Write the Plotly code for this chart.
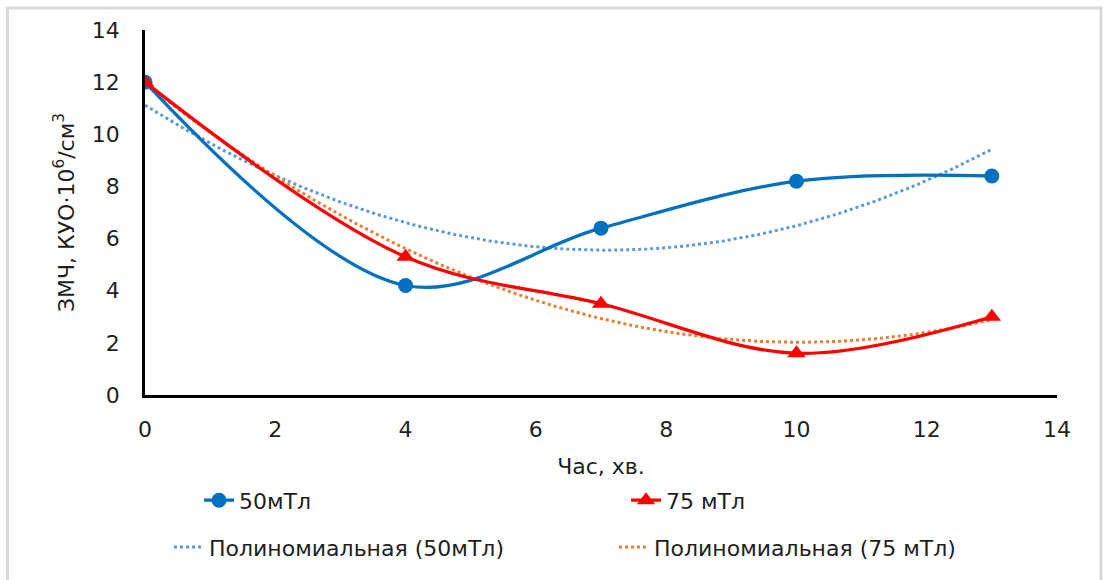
import numpy as np
import plotly.graph_objects as go

# Time points (minutes) and measured values
time_min = [0, 4, 7, 10, 13]
series_50 = [12.0, 4.2, 6.4, 8.2, 8.4]
series_75 = [12.0, 5.3, 3.5, 1.6, 3.0]

name_50 = "50мТл"
name_75 = "75 мТл"
trend_name_50 = "Полиномиальная (50мТл)"
trend_name_75 = "Полиномиальная (75 мТл)"

x_ticks = [0, 2, 4, 6, 8, 10, 12, 14]
y_ticks = [0, 2, 4, 6, 8, 10, 12, 14]

FONT = "DejaVu Sans"
FS = 22
TXT = "#1f1f1f"

# Second-order polynomial trendlines fitted to each series
xs = np.linspace(min(time_min), max(time_min), 200)
fit_50 = np.polyval(np.polyfit(time_min, series_50, 2), xs)
fit_75 = np.polyval(np.polyfit(time_min, series_75, 2), xs)

# plot area in pixels
W, H = 1103, 580
L, R, T, B = 145, 1057, 30, 397


def px_x(px):
    return (px - L) / (R - L)


def px_y(py):
    return (B - py) / (B - T)


fig = go.Figure()

fig.add_trace(go.Scatter(
    x=xs, y=fit_50, mode="lines", name=trend_name_50, legend="legend3",
    line=dict(color="#5B9BD5", width=3, dash="dot"),
))
fig.add_trace(go.Scatter(
    x=xs, y=fit_75, mode="lines", name=trend_name_75, legend="legend4",
    line=dict(color="#ED7D31", width=3, dash="dot"),
))
fig.add_trace(go.Scatter(
    x=time_min, y=series_50, mode="lines+markers", name=name_50, legend="legend",
    line=dict(color="#0070C0", width=3.3, shape="spline", smoothing=1.0),
    marker=dict(symbol="circle", size=15, color="#0070C0"),
))
fig.add_trace(go.Scatter(
    x=time_min, y=series_75, mode="lines+markers", name=name_75, legend="legend2",
    line=dict(color="#FF0000", width=3.3, shape="spline", smoothing=1.0),
    marker=dict(symbol="triangle-up", size=16, color="#FF0000"),
))

legend_common = dict(
    orientation="h", xanchor="left", yanchor="middle",
    bgcolor="rgba(0,0,0,0)", font=dict(family=FONT, size=FS, color=TXT),
    itemclick=False, itemdoubleclick=False,
)

fig.update_layout(
    width=W, height=H,
    margin=dict(l=L, r=W - R, t=T, b=H - B),
    paper_bgcolor="white", plot_bgcolor="white",
    font=dict(family=FONT, size=FS, color=TXT),
    showlegend=True,
    legend=dict(x=px_x(199), y=px_y(503), **legend_common),
    legend2=dict(x=px_x(626), y=px_y(503), **legend_common),
    legend3=dict(x=px_x(169), y=px_y(550), **legend_common),
    legend4=dict(x=px_x(614), y=px_y(550), **legend_common),
    xaxis=dict(
        range=[0, 14], tickvals=x_ticks, showgrid=False, zeroline=False,
        showline=True, linecolor="black", linewidth=2.5, ticks="",
        ticklabelstandoff=13, tickfont=dict(family=FONT, size=FS, color=TXT),
        title=dict(text="Час, хв.", font=dict(family=FONT, size=FS, color=TXT),
                   standoff=18),
    ),
    yaxis=dict(
        range=[0, 14], tickvals=y_ticks, showgrid=False, zeroline=False,
        showline=True, linecolor="black", linewidth=2.5, ticks="",
        ticklabelstandoff=18, tickfont=dict(family=FONT, size=FS, color=TXT),
        title=dict(text="ЗМЧ, КУО·10<sup>6</sup>/см<sup>3</sup>",
                   font=dict(family=FONT, size=FS, color=TXT), standoff=12),
    ),
    shapes=[dict(
        type="rect", xref="paper", yref="paper",
        x0=px_x(7.5), x1=px_x(1101), y0=px_y(600), y1=px_y(8),
        line=dict(color="#D9D9D9", width=3), layer="below",
    )],
)

fig.write_html("out.html")
